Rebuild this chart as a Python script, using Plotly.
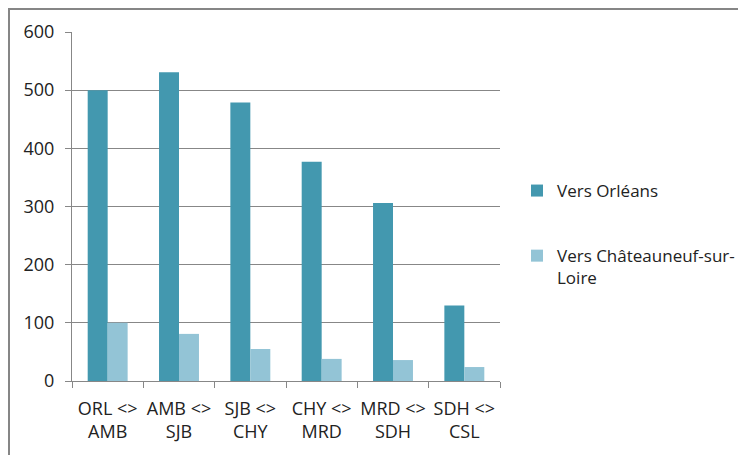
import plotly.graph_objects as go

categories = ["ORL &lt;&gt;<br>AMB", "AMB &lt;&gt;<br>SJB", "SJB &lt;&gt;<br>CHY",
              "CHY &lt;&gt;<br>MRD", "MRD &lt;&gt;<br>SDH", "SDH &lt;&gt;<br>CSL"]
vers_orleans = [500, 531, 479, 377, 306, 130]
vers_chateauneuf = [100, 81, 55, 38, 36, 24]
series_names = ["Vers Orléans", "Vers Châteauneuf-sur-<br>Loire"]
colors = ["#4398AF", "#93C4D6"]
y_ticks = [0, 100, 200, 300, 400, 500, 600]

FONT = "Open Sans"
FS = 18
OFF = 8  # page body offset
W, H = 746 - OFF, 455 - OFF
L, T = 72 - OFF, 32 - OFF
pw, ph = 428, 349
R, B = W - L - pw, H - T - ph

fig = go.Figure()
for name, vals, col, grp in zip(series_names, [vers_orleans, vers_chateauneuf], colors, ["a", "b"]):
    fig.add_trace(go.Bar(x=categories, y=vals, name=name, marker=dict(color=col, line=dict(width=0)),
                         legendgroup=grp))

def px2x(p):
    return (p - OFF - L) / pw

def px2y(p):
    return (T + ph - (p - OFF)) / ph

fig.add_shape(type="rect", xref="paper", yref="paper",
              x0=px2x(9), x1=px2x(780), y0=px2y(480), y1=px2y(9),
              line=dict(color="#868686", width=2), fillcolor="rgba(0,0,0,0)")

fig.update_layout(
    width=W, height=H,
    margin=dict(l=L, r=R, t=T, b=B, autoexpand=False),
    paper_bgcolor="white", plot_bgcolor="white",
    barmode="group", bargap=0.44, bargroupgap=0,
    font=dict(family=FONT, size=FS, color="#222"),
    showlegend=True,
    legend=dict(x=px2x(517), y=px2y(173), xanchor="left", yanchor="top",
                traceorder="grouped", tracegroupgap=40, valign="top",
                font=dict(family=FONT, size=17, color="#222"),
                itemwidth=30, bgcolor="rgba(0,0,0,0)"),
    xaxis=dict(type="category", showline=True, linecolor="#878787", linewidth=1,
               ticks="outside", tickson="boundaries", ticklen=6, tickcolor="#878787",
               tickangle=0, automargin=False, ticklabelstandoff=11,
               showgrid=False, tickfont=dict(size=FS, color="#222")),
    yaxis=dict(range=[0, 600], tickvals=y_ticks, showline=True, linecolor="#878787", linewidth=1,
               showgrid=True, gridcolor="#878787", gridwidth=1, zeroline=False,
               ticks="outside", ticklen=6, tickcolor="#878787", automargin=False,
               ticklabelstandoff=7, tickfont=dict(size=FS, color="#222")),
)

fig.write_html("out.html")
